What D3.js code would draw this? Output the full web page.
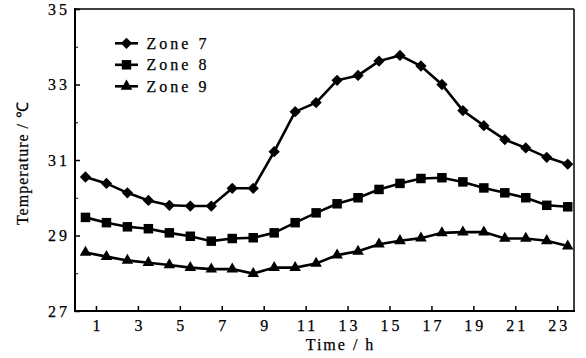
<!DOCTYPE html>
<html><head><meta charset="utf-8">
<script src="https://cdn.jsdelivr.net/npm/d3@7"></script>
<style>
body{margin:0;background:#fff}
text{font-family:"Liberation Serif","Times New Roman",serif;fill:#000;stroke:#000;stroke-width:0.25px}
</style>
</head><body><svg id="c" width="586" height="358"></svg>
<script>
const hours = [0.5,1.5,2.5,3.5,4.5,5.5,6.5,7.5,8.5,9.5,10.5,11.5,12.5,13.5,14.5,15.5,16.5,17.5,18.5,19.5,20.5,21.5,22.5,23.5];
const zone7 = [30.55,30.38,30.13,29.93,29.80,29.78,29.78,30.25,30.25,31.22,32.28,32.52,33.11,33.24,33.62,33.77,33.49,33.00,32.31,31.91,31.54,31.32,31.07,30.89];
const zone8 = [29.48,29.34,29.23,29.18,29.07,28.98,28.85,28.92,28.94,29.07,29.34,29.60,29.84,30.00,30.22,30.38,30.51,30.53,30.42,30.26,30.13,30.00,29.80,29.76];
const zone9 = [28.55,28.44,28.34,28.28,28.22,28.15,28.11,28.11,27.99,28.15,28.15,28.26,28.48,28.58,28.77,28.86,28.93,29.07,29.09,29.09,28.92,28.92,28.86,28.72];
const seriesNames = ["Zone 7","Zone 8","Zone 9"];
const seriesValues = [zone7, zone8, zone9];
const xTicks = [1,3,5,7,9,11,13,15,17,19,21,23];
const yTicks = [27,29,31,33,35];
const yMinorTicks = [28,30,32,34];
const xTitle = "Time / h";
const yTitle = "Temperature / ℃";

const L = 75, R = 574, T = 9, B = 311;
const svg = d3.select("#c");
const x = d3.scaleLinear().domain([0, 23.8]).range([L, R]);
const y = d3.scaleLinear().domain([27, 35]).range([B, T]);

// frame top/right
svg.append("line").attr("x1", L).attr("x2", R).attr("y1", T).attr("y2", T).attr("stroke", "#000").attr("stroke-width", 1.5);
svg.append("line").attr("x1", R).attr("x2", R).attr("y1", T).attr("y2", B).attr("stroke", "#000").attr("stroke-width", 1.5);

// x axis
const gx = svg.append("g").attr("transform", `translate(0,${B})`)
  .call(d3.axisBottom(x).tickValues(xTicks).tickSize(-5).tickPadding(9).tickFormat(d3.format("d")));
gx.select(".domain").remove();
gx.selectAll(".tick line").attr("stroke-width", 1.5);
gx.selectAll(".tick text").style("font-size", "16px").style("letter-spacing", "3px").attr("dx", "1.5px");
svg.append("line").attr("x1", L - 1).attr("x2", R + 1).attr("y1", B).attr("y2", B).attr("stroke", "#000").attr("stroke-width", 2);

// y axis
const gy = svg.append("g").attr("transform", `translate(${L},0)`)
  .call(d3.axisLeft(y).tickValues(yTicks).tickSize(-5).tickPadding(5).tickFormat(d3.format("d")));
gy.select(".domain").remove();
gy.selectAll(".tick line").attr("stroke-width", 1.5);
gy.selectAll(".tick text").style("font-size", "16px").style("letter-spacing", "3px");
const gym = svg.append("g").attr("transform", `translate(${L},0)`)
  .call(d3.axisLeft(y).tickValues(yMinorTicks).tickSize(-3).tickFormat(""));
gym.select(".domain").remove();
svg.append("line").attr("x1", L).attr("x2", L).attr("y1", T - 1).attr("y2", B + 1).attr("stroke", "#000").attr("stroke-width", 2);

// titles
svg.append("text").attr("x", (L + R) / 2 + 16).attr("y", 350).attr("text-anchor", "middle")
  .style("font-size", "16px").style("letter-spacing", "2px").text(xTitle);
svg.append("text").attr("transform", `translate(28,${163}) rotate(-90)`).attr("text-anchor", "middle")
  .style("font-size", "16px").style("letter-spacing", "1px").text(yTitle);

// markers
const sqArea = 90, diaArea = 64, triArea = 58;
const markerPath = [
  d3.symbol().type(d3.symbolSquare).size(diaArea)(),
  d3.symbol().type(d3.symbolSquare).size(sqArea)(),
  d3.symbol().type(d3.symbolTriangle).size(triArea)()
];
const markerRot = [45, 0, 0];

const line = d3.line().x((d, i) => x(hours[i])).y(d => y(d));
seriesValues.forEach((vals, s) => {
  svg.append("path").datum(vals).attr("d", line).attr("fill", "none").attr("stroke", "#000").attr("stroke-width", 2.6);
  svg.append("g").selectAll("path").data(vals).join("path")
    .attr("d", markerPath[s])
    .attr("transform", (d, i) => `translate(${x(hours[i])},${y(d)}) rotate(${markerRot[s]})`)
    .attr("fill", "#000");
});

// legend
const lg = svg.append("g");
seriesNames.forEach((name, s) => {
  const cy = 43.3 + s * 21.5;
  lg.append("line").attr("x1", 115).attr("x2", 138).attr("y1", cy).attr("y2", cy).attr("stroke", "#000").attr("stroke-width", 2.6);
  lg.append("path").attr("d", markerPath[s]).attr("transform", `translate(126.5,${cy}) rotate(${markerRot[s]})`).attr("fill", "#000");
  lg.append("text").attr("x", 146.5).attr("y", cy + 5.5).style("font-size", "16px").style("letter-spacing", "3px").text(name);
});
</script>
</body></html>
